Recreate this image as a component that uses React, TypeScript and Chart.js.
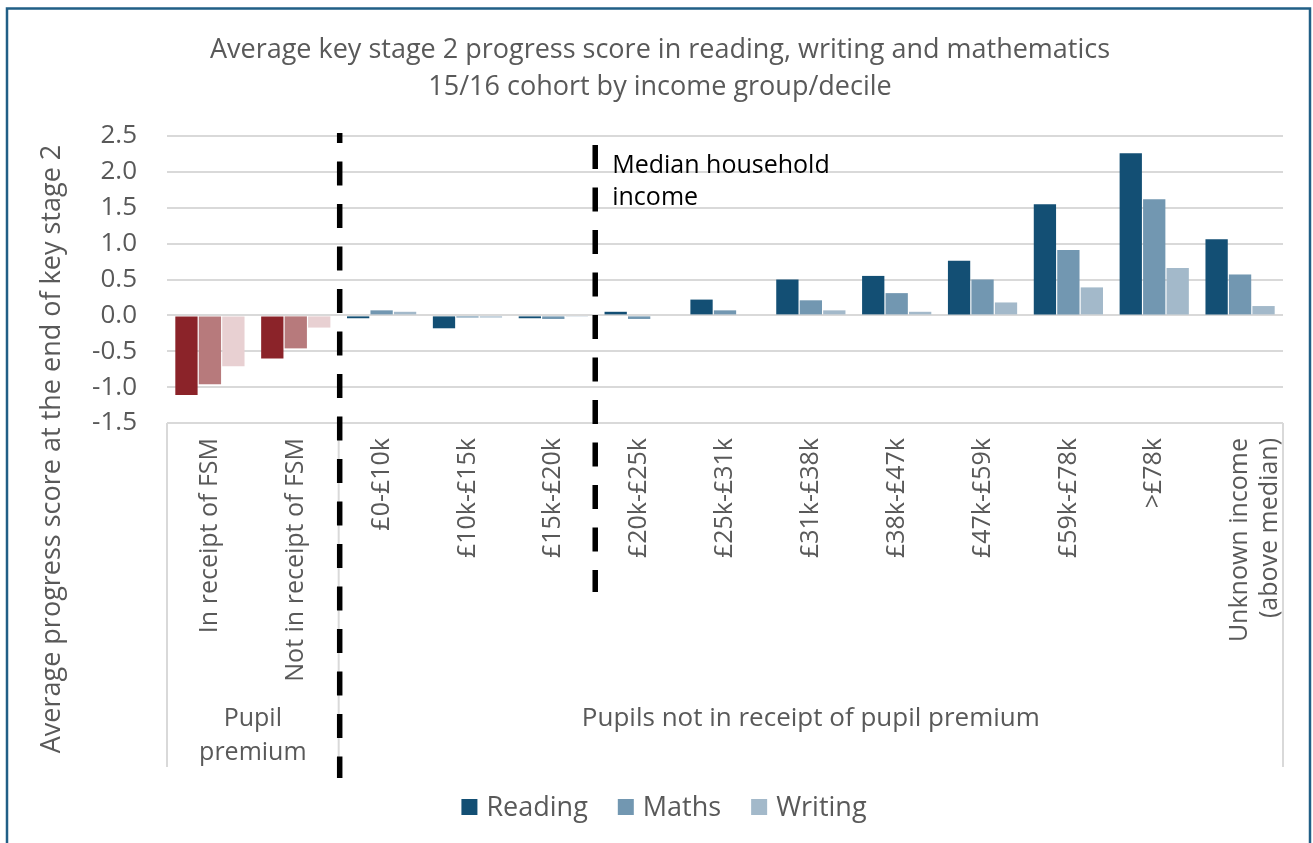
import React, { useEffect, useRef } from 'react';
import { Chart, registerables } from 'chart.js';

Chart.register(...registerables);

// ---------- data ----------
const categories: (string | string[])[] = [
  'In receipt of FSM',
  'Not in receipt of FSM',
  '£0-£10k',
  '£10k-£15k',
  '£15k-£20k',
  '£20k-£25k',
  '£25k-£31k',
  '£31k-£38k',
  '£38k-£47k',
  '£47k-£59k',
  '£59k-£78k',
  '>£78k',
  ['Unknown income', '(above median)'],
];
const seriesNames = ['Reading', 'Maths', 'Writing'];
const reading = [-1.11, -0.6, -0.04, -0.18, -0.04, 0.05, 0.22, 0.5, 0.55, 0.76, 1.55, 2.26, 1.06];
const maths = [-0.96, -0.46, 0.07, -0.03, -0.05, -0.05, 0.07, 0.21, 0.31, 0.5, 0.91, 1.62, 0.57];
const writing = [-0.71, -0.17, 0.05, -0.03, -0.01, 0.0, 0.0, 0.07, 0.05, 0.18, 0.39, 0.66, 0.13];
const yMin = -1.5;
const yMax = 2.5;
const yStep = 0.5;
const titleLines = [
  'Average key stage 2 progress score in reading, writing and mathematics',
  '15/16 cohort by income group/decile',
];
const yAxisTitle = 'Average progress score at the end of key stage 2';
const pupilPremiumCount = 2; // first categories belonging to "Pupil premium"
const groupLabels = [['Pupil', 'premium'], ['Pupils not in receipt of pupil premium']];
const medianAfterIndex = 4; // median line sits between category 4 and 5
const medianLabel = ['Median household', 'income'];

// ---------- styles ----------
const FONT = '"Open Sans", "DejaVu Sans", sans-serif';
const TEXT = '#595959';
const blue = ['#134f74', '#7297b1', '#a3b9ca'];
const red = ['#8b2329', '#b77a7c', '#e8d0d2'];

const colorsFor = (s: number) => categories.map((_, i) => (i < pupilPremiumCount ? red[s] : blue[s]));

const overlay = {
  id: 'overlay',
  afterDraw(chart: any) {
    const ctx: CanvasRenderingContext2D = chart.ctx;
    const ca = chart.chartArea;
    const xs = chart.scales.x;
    const boundary = (i: number) => (xs.getPixelForValue(i) + xs.getPixelForValue(i + 1)) / 2;
    ctx.save();

    // outer frame
    ctx.strokeStyle = '#215f86';
    ctx.lineWidth = 2.5;
    ctx.strokeRect(7, 8.5, 1303, 900);

    // title
    ctx.fillStyle = TEXT;
    ctx.font = `27px ${FONT}`;
    ctx.textAlign = 'center';
    ctx.textBaseline = 'alphabetic';
    ctx.fillText(titleLines[0], 660, 58);
    ctx.fillText(titleLines[1], 660, 95);

    // y axis title
    ctx.save();
    ctx.translate(52, 449);
    ctx.rotate(-Math.PI / 2);
    ctx.font = `27px ${FONT}`;
    ctx.textBaseline = 'middle';
    ctx.fillText(yAxisTitle, 0, 0);
    ctx.restore();

    // multi-level category separators
    const sepBottom = 767;
    const b1 = boundary(pupilPremiumCount - 1);
    ctx.strokeStyle = '#d9d9d9';
    ctx.lineWidth = 2;
    [ca.left, b1, ca.right].forEach((x) => {
      ctx.beginPath();
      ctx.moveTo(x, ca.bottom);
      ctx.lineTo(x, sepBottom);
      ctx.stroke();
    });

    // group labels
    ctx.fillStyle = TEXT;
    ctx.font = `25px ${FONT}`;
    ctx.textAlign = 'center';
    const g0 = (ca.left + b1) / 2;
    ctx.fillText(groupLabels[0][0], g0, 726);
    ctx.fillText(groupLabels[0][1], g0, 760);
    ctx.font = `26px ${FONT}`;
    ctx.fillText(groupLabels[1][0], (b1 + ca.right) / 2, 726);

    // dashed lines
    ctx.strokeStyle = '#000';
    ctx.lineWidth = 5.5;
    ctx.lineCap = 'butt';
    ctx.setLineDash([24, 18.5]);
    ctx.lineDashOffset = 14;
    ctx.beginPath();
    ctx.moveTo(b1 + 1, ca.top - 3);
    ctx.lineTo(b1 + 1, 778);
    ctx.stroke();
    const bm = boundary(medianAfterIndex);
    ctx.lineDashOffset = 0;
    ctx.beginPath();
    ctx.moveTo(bm - 1, ca.top + 9);
    ctx.lineTo(bm - 1, 592);
    ctx.stroke();
    ctx.setLineDash([]);

    // median label
    ctx.fillStyle = '#000';
    ctx.font = `25px ${FONT}`;
    ctx.textAlign = 'left';
    ctx.fillText(medianLabel[0], bm + 16, 173);
    ctx.fillText(medianLabel[1], bm + 16, 205);

    // legend
    ctx.font = `27px ${FONT}`;
    const box = 16;
    const gapBoxText = 9;
    const gapItems = 30;
    const widths = seriesNames.map((n) => box + gapBoxText + ctx.measureText(n).width);
    const total = widths.reduce((a, b) => a + b, 0) + gapItems * (seriesNames.length - 1);
    let lx = 664 - total / 2;
    const ly = 816;
    seriesNames.forEach((n, i) => {
      ctx.fillStyle = blue[i];
      ctx.fillRect(lx, ly - 17, box, box);
      ctx.fillStyle = TEXT;
      ctx.fillText(n, lx + box + gapBoxText, ly);
      lx += widths[i] + gapItems;
    });

    ctx.restore();
  },
};

export default function App() {
  const ref = useRef<HTMLCanvasElement | null>(null);
  useEffect(() => {
    if (!ref.current) return;
    const chart = new Chart(ref.current, {
      type: 'bar',
      data: {
        labels: categories as any,
        datasets: [reading, maths, writing].map((d, s) => ({
          label: seriesNames[s],
          data: d,
          backgroundColor: colorsFor(s),
          categoryPercentage: 0.82,
          barPercentage: 0.95,
        })),
      },
      options: {
        animation: false,
        responsive: false,
        devicePixelRatio: 1,
        layout: { padding: { left: 10, right: 30, top: 136, bottom: 0 } },
        plugins: {
          legend: { display: false },
          title: { display: false },
          tooltip: { enabled: false },
        },
        scales: {
          x: {
            grid: { display: false },
            border: { display: false },
            ticks: {
              autoSkip: false,
              maxRotation: 90,
              minRotation: 90,
              padding: 7,
              color: TEXT,
              font: { family: FONT, size: 25 },
            },
            afterFit: (s: any) => {
              s.height = 420;
            },
          },
          y: {
            min: yMin,
            max: yMax,
            grid: { color: '#d9d9d9', lineWidth: 2, drawTicks: false },
            border: { display: false },
            ticks: {
              stepSize: yStep,
              padding: 30,
              color: TEXT,
              font: { family: FONT, size: 26 },
              callback: (v: any) => Number(v).toFixed(1),
            },
            afterFit: (s: any) => {
              s.width = 157;
            },
          },
        },
      },
      plugins: [overlay],
    });
    return () => chart.destroy();
  }, []);
  return (
    <div style={{ position: 'fixed', left: 0, top: 0, width: 1313, height: 843, background: '#fff' }}>
      <canvas ref={ref} width={1313} height={843} style={{ display: 'block' }} />
    </div>
  );
}
